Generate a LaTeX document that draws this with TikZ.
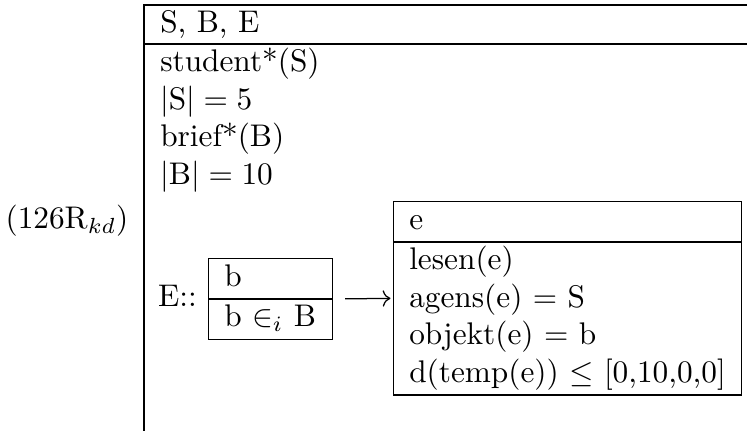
\documentclass[tikz,border=0pt]{standalone}
\usepackage{amsmath,amssymb}
\usepackage{tikz}
\usetikzlibrary{arrows.meta,positioning,shapes.multipart}

\begin{document}
\begin{tikzpicture}[
  x=0.3195pt, y=-0.3195pt,
  drsbox/.style={
    draw,
    rectangle split,
    rectangle split parts=2,
    align=left,
    inner xsep=5pt,
    inner ysep=0.25pt,
    line width=0.4pt,
    anchor=north west
  },
  cond/.style={
    align=left,
    inner xsep=5pt,
    inner ysep=0.25pt,
    anchor=north west
  },
  lbl/.style={
    inner sep=0pt,
    anchor=base west
  },
  arr/.style={
    -{Computer Modern Rightarrow},
    line width=0.4pt
  }
]
\useasboundingbox (0,0) rectangle (747,431);

% Outer frame (open to the right and below)
\coordinate (topleft) at (144,5);
\coordinate (split) at (144,44);
\draw[line width=0.4pt] (144,445) -- (topleft) -- (760,5);
\draw[line width=0.4pt] (split) -- (760,44);

% Universe and conditions
\node[cond] (univ) at (topleft) {\strut S, B, E};
\node[cond] (conds) at (split)
  {\strut student*(S)\\
   \strut $|\mathrm{S}| = 5$\\
   \strut brief*(B)\\
   \strut $|\mathrm{B}| = 10$};

% Example label
\node[lbl] (num) at (5,229) {(126R$_{kd}$)};

% Duplex condition
\node[drsbox, text width=29.6pt] (bbox) at (208,258)
  {\strut b
   \nodepart{second}\strut b $\in_i$ B};
\node[lbl, anchor=base east] (quant)
  at ([xshift=-3.4pt,yshift=-2.5pt]bbox.west) {E::};
\node[drsbox, text width=101.2pt] (ebox) at (393,201)
  {\strut e
   \nodepart{second}\strut lesen(e)\\
   \strut agens(e) $=$ S\\
   \strut objekt(e) $=$ b\\
   \strut d(temp(e)) $\leq$ [0,10,0,0]};

\draw[arr, shorten <=3.8pt, shorten >=0.8pt] (bbox.east) -- (ebox.west);

\end{tikzpicture}
\end{document}
